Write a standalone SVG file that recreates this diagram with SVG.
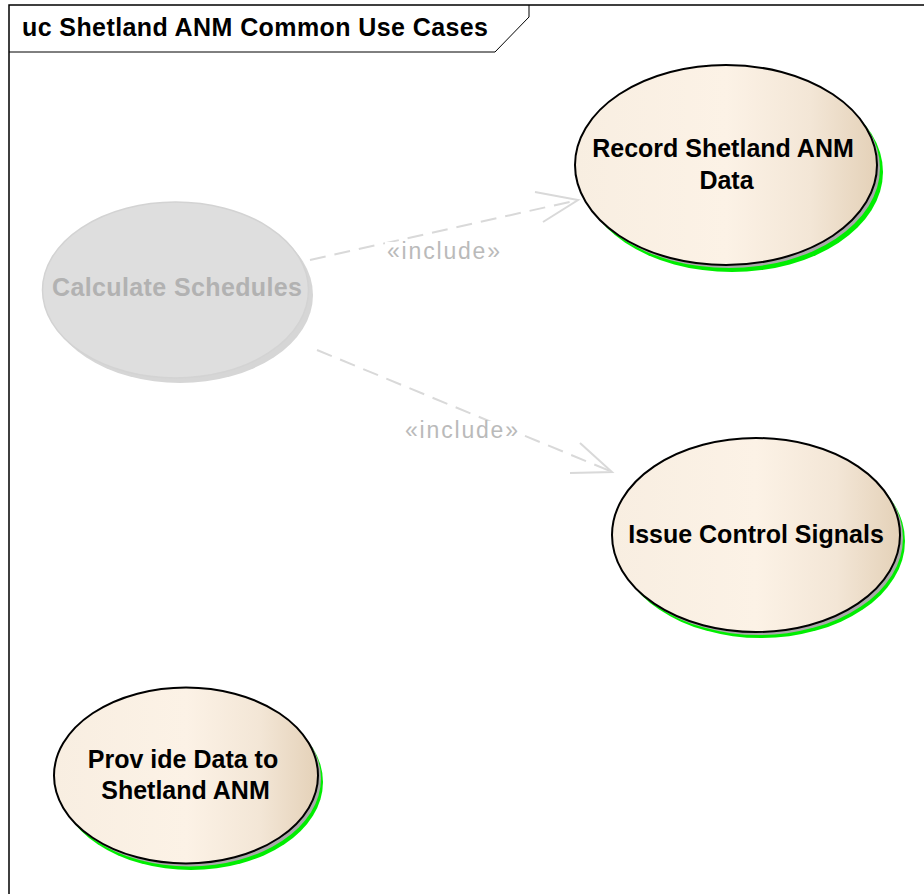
<svg xmlns="http://www.w3.org/2000/svg" width="924" height="894" viewBox="0 0 924 894">
  <defs>
    <linearGradient id="uc" x1="0" y1="0" x2="1" y2="0">
      <stop offset="0" stop-color="#f8eee1"/>
      <stop offset="0.5" stop-color="#fcf2e6"/>
      <stop offset="0.78" stop-color="#f3e6d6"/>
      <stop offset="1" stop-color="#e4d1b8"/>
    </linearGradient>
    <style>
      .frame { fill: none; stroke: #000; stroke-width: 1.5; }
      .tab { fill: none; stroke: #000; stroke-width: 1; }
      .title { font-family: "Liberation Sans", Arial, sans-serif; font-weight: bold; font-size: 25px; fill: #000; }
      .green { fill: #00ee00; }
      .gray { fill: #a9a9a9; }
      .body { fill: url(#uc); stroke: #000; stroke-width: 2; }
      .label { font-family: "Liberation Sans", Arial, sans-serif; font-weight: bold; font-size: 25px; fill: #000; text-anchor: middle; }
      .faded-shadow { fill: #d6d6d6; }
      .faded-body { fill: #dedede; stroke: #d3d3d3; stroke-width: 1.5; }
      .faded-label { font-family: "Liberation Sans", Arial, sans-serif; font-weight: bold; font-size: 25px; fill: #b2b2b2; text-anchor: middle; }
      .dep { fill: none; stroke: #d9d9d9; stroke-width: 2; stroke-dasharray: 16 9; }
      .head { fill: none; stroke: #d9d9d9; stroke-width: 2; }
      .stereo { font-family: "Liberation Sans", Arial, sans-serif; font-size: 23px; fill: #bababa; }
      .lblbg { fill: #fff; }
    </style>
  </defs>
  <rect width="924" height="894" fill="#fff"/>

  <g id="frame">
    <polyline class="frame" points="9,894 9,5 924,5"/>
    <polyline class="tab" points="9,52 495,52 529,17 529,5"/>
    <text class="title" x="22" y="36" textLength="466" lengthAdjust="spacing">uc Shetland ANM Common Use Cases</text>
  </g>

  <g id="connectors">
    <line class="dep" x1="310" y1="260" x2="576" y2="200.5"/>
    <polyline class="head" points="535,192 578,200 543,222"/>
    <rect class="lblbg" x="385" y="242" width="117" height="22"/>
    <text class="stereo" x="387" y="259" textLength="113" lengthAdjust="spacing">«include»</text>

    <line class="dep" x1="317" y1="350" x2="610" y2="471"/>
    <polyline class="head" points="580,443 612,472 570,473"/>
    <rect class="lblbg" x="403" y="421" width="117" height="22"/>
    <text class="stereo" x="405" y="438" textLength="113" lengthAdjust="spacing">«include»</text>
  </g>

  <g id="calculate-schedules">
    <ellipse class="faded-shadow" cx="180" cy="295" rx="133" ry="88"/>
    <ellipse class="faded-body" cx="175.5" cy="290" rx="133" ry="88"/>
    <text class="faded-label" x="177" y="296" textLength="250" lengthAdjust="spacing">Calculate Schedules</text>
  </g>

  <g id="record-data">
    <ellipse class="green" cx="732" cy="172" rx="151" ry="100"/>
    <ellipse class="gray" cx="729" cy="168" rx="151" ry="100"/>
    <ellipse class="body" cx="726" cy="165" rx="151" ry="100"/>
    <text class="label" x="723" y="157">Record Shetland ANM</text>
    <text class="label" x="726.5" y="189">Data</text>
  </g>

  <g id="issue-control-signals">
    <ellipse class="green" cx="761" cy="541" rx="144" ry="97"/>
    <ellipse class="gray" cx="759" cy="538" rx="144" ry="97"/>
    <ellipse class="body" cx="756" cy="535" rx="144" ry="97"/>
    <text class="label" x="756" y="543">Issue Control Signals</text>
  </g>

  <g id="provide-data">
    <ellipse class="green" cx="191" cy="782" rx="132" ry="88"/>
    <ellipse class="gray" cx="189" cy="778.5" rx="132" ry="88"/>
    <ellipse class="body" cx="186" cy="775.5" rx="132" ry="88"/>
    <text class="label" x="183" y="768">Prov ide Data to</text>
    <text class="label" x="185.5" y="799">Shetland ANM</text>
  </g>
</svg>
